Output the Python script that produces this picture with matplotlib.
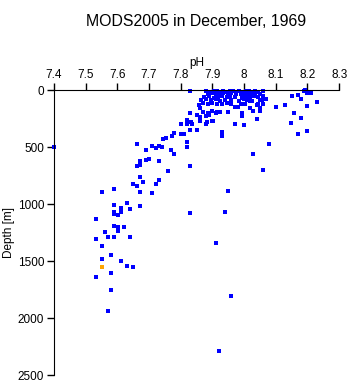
import matplotlib
matplotlib.use("Agg")
import matplotlib.pyplot as plt

plt.rcParams['font.family'] = ['Liberation Sans', 'DejaVu Sans']

title = "MODS2005 in December, 1969"
xlabel = "pH"
ylabel = "Depth [m]"
xticks = [7.4, 7.5, 7.6, 7.7, 7.8, 7.9, 8.0, 8.1, 8.2, 8.3]
xticklabels = ["7.4", "7.5", "7.6", "7.7", "7.8", "7.9", "8", "8.1", "8.2", "8.3"]
yticks = [0, 500, 1000, 1500, 2000, 2500]

ph_shallow = [7.830, 7.880, 7.893, 7.905, 7.915, 7.925, 7.935, 7.945, 7.955, 7.965, 7.975, 7.985, 7.995, 8.005, 8.015, 8.025, 8.035, 8.045, 8.060, 8.189, 8.192,
              7.885, 7.900, 7.912, 7.922, 7.935, 7.948, 7.960, 7.975, 7.990, 8.000, 8.008, 8.015, 8.025, 8.035, 8.050, 8.198, 8.211, 8.171,
              7.875, 7.890, 7.905, 7.918, 7.930, 7.945, 7.955, 7.970, 7.995, 8.003, 8.012, 8.020, 8.030, 8.045, 8.061, 8.069, 8.150,
              7.865, 7.880, 7.895, 7.910, 7.925, 7.940, 7.960, 7.985, 8.000, 8.010, 8.025, 8.050, 8.019, 8.056, 8.180, 8.229,
              7.870, 7.885, 7.900, 7.915, 7.930, 7.945, 7.960, 7.990, 8.003, 7.999, 8.045, 8.061, 8.040, 8.130, 7.859]
depth_shallow = [6, 8, 12, 6, 10, 14, 8, 12, 6, 10, 15, 8, 12, 6, 10, 14, 8, 12, 6, 6, 0,
                 30, 25, 35, 28, 22, 32, 26, 35, 30, 24, 38, 28, 33, 25, 30, 23, 23, 38,
                 60, 50, 66, 55, 48, 62, 52, 58, 65, 50, 56, 62, 48, 55, 53, 76, 53,
                 85, 80, 90, 78, 95, 82, 88, 92, 80, 86, 94, 82, 96, 82, 76, 99,
                 115, 120, 110, 125, 118, 112, 122, 125, 123, 125, 125, 123, 129, 126, 132]

ph_mid = [8.050, 8.020, 7.982, 7.972, 7.860, 8.019, 8.100, 8.200,
          7.912, 7.898, 7.887, 7.872, 7.950, 7.925, 7.915, 7.992, 8.029, 8.050, 8.159, 7.829,
          7.851, 7.861, 7.880, 7.890, 7.992, 8.040, 8.180,
          7.898, 7.882, 7.880, 7.861, 7.834, 7.821, 7.821, 7.837, 7.800, 8.001, 7.972, 8.149, 7.903,
          7.830, 7.851, 7.931, 7.931, 7.779, 7.800, 7.811, 7.772, 7.753, 7.743, 8.200, 8.171]
depth_mid = [152, 152, 146, 146, 155, 155, 146, 140,
             199, 181, 204, 193, 190, 190, 188, 199, 184, 184, 196, 204,
             213, 234, 228, 220, 228, 251, 240,
             272, 278, 298, 272, 281, 257, 298, 298, 300, 301, 298, 284, 272,
             345, 345, 363, 404, 372, 382, 386, 404, 415, 424, 357, 380]

ph_deep = [7.400, 7.661, 7.690, 7.710, 7.721, 7.732, 7.742, 7.770, 7.779, 7.821, 7.821, 8.080,
           7.672, 7.690, 7.701, 7.732, 7.661, 7.672, 7.761, 7.830, 8.029, 8.061,
           7.672, 7.682, 7.732, 7.721, 7.650, 7.661, 7.552, 7.590, 7.672, 7.710, 7.950,
           7.631, 7.590, 7.672, 7.611, 7.641, 7.611, 7.590, 7.590, 7.601, 7.532, 7.830, 7.941,
           7.590, 7.601, 7.621, 7.601, 7.562, 7.572, 7.590, 7.641, 7.532, 7.552, 7.911,
           7.552, 7.581, 7.611, 7.631, 7.650, 7.581, 7.532, 7.581, 7.960, 7.572, 7.921]
depth_deep = [500, 468, 520, 486, 503, 485, 497, 526, 561, 450, 497, 468,
              620, 608, 605, 617, 661, 652, 711, 661, 561, 702,
              763, 801, 784, 819, 827, 839, 889, 863, 889, 898, 883,
              988, 1003, 1020, 1032, 1038, 1064, 1072, 1090, 1099, 1129, 1073, 1064,
              1187, 1202, 1196, 1231, 1240, 1284, 1284, 1292, 1307, 1368, 1342,
              1480, 1450, 1494, 1538, 1547, 1602, 1643, 1757, 1807, 1933, 2284]

ph_orange = [7.552]
depth_orange = [1547]

fig = plt.figure(figsize=(3.5, 3.84), dpi=100)
ax = fig.add_axes([0.154, 0.023, 0.815, 0.742])

for xs, ys in [(ph_shallow, depth_shallow), (ph_mid, depth_mid), (ph_deep, depth_deep)]:
    ax.plot(xs, ys, ls='none', marker='s', ms=2.4, mew=0, color='#0000ff', clip_on=False)
ax.plot(ph_orange, depth_orange, ls='none', marker='s', ms=2.4, mew=0, color='#ffa500', clip_on=False)

ax.set_xlim(7.4, 8.3)
ax.set_ylim(2500, 0)
ax.xaxis.tick_top()
ax.xaxis.set_label_position('top')
ax.set_xticks(xticks)
ax.set_xticklabels(xticklabels)
ax.set_yticks(yticks)
ax.tick_params(axis='both', direction='out', length=5, width=1, labelsize=8.5, pad=2)
ax.spines['right'].set_visible(False)
ax.spines['bottom'].set_visible(False)
ax.set_xlabel(xlabel, fontsize=8.5, labelpad=2)
ax.set_ylabel(ylabel, fontsize=8.5, labelpad=2)
fig.text(0.561, 0.943, title, ha='center', va='center', fontsize=11.4)

fig.savefig("out.png", dpi=100)
